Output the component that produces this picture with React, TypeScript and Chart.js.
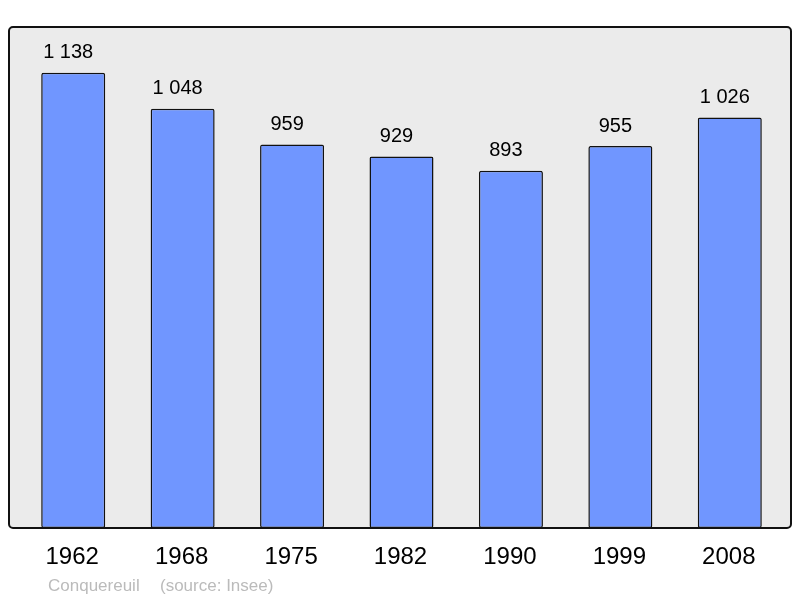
import React, { useEffect, useRef } from "react";
import { Chart, registerables } from "chart.js";

Chart.register(...registerables);

const years = ["1962", "1968", "1975", "1982", "1990", "1999", "2008"];
const population = [1138, 1048, 959, 929, 893, 955, 1026];
const townName = "Conquereuil";
const sourceText = "(source: Insee)";

const FONT = '"Liberation Sans", Arial, sans-serif';

function fmt(v: number): string {
  return String(v).replace(/\B(?=(\d{3})+(?!\d))/g, " ");
}

const framePlugin = {
  id: "frame",
  beforeDatasetsDraw(chart: any) {
    const { ctx, chartArea } = chart;
    const l = chartArea.left - 9.5;
    const r = chartArea.right + 6.5;
    const t = chartArea.top;
    const b = chartArea.bottom;
    ctx.save();
    ctx.fillStyle = "#ebebeb";
    ctx.beginPath();
    ctx.roundRect(l, t, r - l, b - t, 4);
    ctx.fill();
    ctx.restore();
  },
  afterDatasetsDraw(chart: any) {
    const { ctx, chartArea } = chart;
    const l = chartArea.left - 9.5;
    const r = chartArea.right + 6.5;
    const t = chartArea.top;
    const b = chartArea.bottom;
    ctx.save();
    ctx.strokeStyle = "#111";
    ctx.lineWidth = 2;
    ctx.beginPath();
    ctx.roundRect(l, t, r - l, b - t, 4);
    ctx.stroke();

    const meta = chart.getDatasetMeta(0);
    const xScale = chart.scales.x;
    ctx.fillStyle = "#000";
    ctx.textAlign = "center";
    ctx.textBaseline = "middle";
    ctx.font = `20px ${FONT}`;
    meta.data.forEach((bar: any, i: number) => {
      ctx.fillText(fmt(population[i]), bar.x - 5, bar.y - 20);
    });
    ctx.font = `24px ${FONT}`;
    years.forEach((y, i) => {
      ctx.fillText(y, xScale.getPixelForValue(i) - 1, b + 29.5);
    });
    ctx.fillStyle = "#bbbbbb";
    ctx.textAlign = "left";
    ctx.font = `17px ${FONT}`;
    ctx.fillText(townName, 48, b + 58);
    ctx.fillText(sourceText, 160, b + 58);
    ctx.restore();
  },
};

export default function App() {
  const ref = useRef<HTMLCanvasElement>(null);
  useEffect(() => {
    if (!ref.current) return;
    const chart = new Chart(ref.current, {
      type: "bar",
      data: {
        labels: years,
        datasets: [
          {
            data: population,
            backgroundColor: "#7096ff",
            borderColor: "#111",
            borderWidth: 1.5,
            borderRadius: 2,
            borderSkipped: false,
            categoryPercentage: 0.585,
            barPercentage: 1,
          },
        ],
      },
      options: {
        responsive: false,
        animation: false,
        layout: { padding: { top: 27, bottom: 70, left: 18.5, right: 15.5 } },
        plugins: { legend: { display: false }, tooltip: { enabled: false } },
        scales: {
          x: { display: false },
          y: { display: false, min: 0, max: 1252.5 },
        },
      },
      plugins: [framePlugin],
    });
    return () => chart.destroy();
  }, []);
  return (
    <div style={{ position: "absolute", left: 0, top: 0, width: 800, height: 598, background: "#fff" }}>
      <canvas ref={ref} width={800} height={598} />
    </div>
  );
}
